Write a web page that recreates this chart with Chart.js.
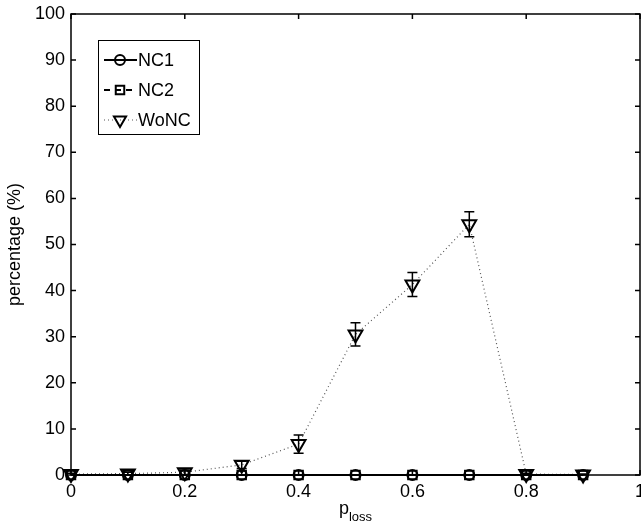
<!DOCTYPE html>
<html>
<head>
<meta charset="utf-8">
<script src="https://cdn.jsdelivr.net/npm/chart.js@4/dist/chart.umd.min.js"></script>
<style>
  body { margin: 0; background: #fff; }
  #wrap { width: 641px; height: 529px; }
</style>
</head>
<body>
<div id="wrap"><canvas id="myChart" width="641" height="529"></canvas></div>
<script>
var ploss = [0, 0.1, 0.2, 0.3, 0.4, 0.5, 0.6, 0.7, 0.8, 0.9];
var nc1 = [0, 0, 0, 0, 0, 0, 0, 0, 0, 0];
var nc2 = [0, 0, 0, 0, 0, 0, 0, 0, 0, 0];
var wonc = [0.2, 0.3, 0.6, 2.2, 6.7, 30.5, 41.3, 54.4, 0.2, 0.1];
var woncErr = [0.2, 0.3, 0.5, 0.8, 2.0, 2.5, 2.6, 2.7, 0.2, 0.1];
var xTicks = [0, 0.2, 0.4, 0.6, 0.8, 1];
var yTicks = [0, 10, 20, 30, 40, 50, 60, 70, 80, 90, 100];

var fontFamily = '"Liberation Sans", Arial, Helvetica, sans-serif';

function toPoints(values) {
  var pts = [];
  for (var i = 0; i < values.length; i++) {
    pts.push({ x: ploss[i], y: values[i] });
  }
  return pts;
}

// error bars for WoNC (dataset 2)
var errorBars = {
  id: 'errorBars',
  afterDatasetsDraw: function(chart) {
    var ctx = chart.ctx;
    var xs = chart.scales.x, ys = chart.scales.y;
    ctx.save();
    ctx.strokeStyle = '#000';
    ctx.lineWidth = 1.5;
    for (var i = 0; i < wonc.length; i++) {
      var px = xs.getPixelForValue(ploss[i]);
      var top = ys.getPixelForValue(wonc[i] + woncErr[i]);
      var bot = ys.getPixelForValue(Math.max(0, wonc[i] - woncErr[i]));
      ctx.beginPath();
      ctx.moveTo(px, top); ctx.lineTo(px, bot);
      ctx.moveTo(px - 5, top); ctx.lineTo(px + 5, top);
      ctx.moveTo(px - 5, bot); ctx.lineTo(px + 5, bot);
      ctx.stroke();
    }
    ctx.restore();
  }
};

function drawMarker(ctx, style, x, y, r) {
  ctx.beginPath();
  if (style === 'circle') {
    ctx.arc(x, y, r, 0, Math.PI * 2);
  } else if (style === 'rect') {
    var s = r * Math.SQRT1_2;
    ctx.rect(x - s, y - s, 2 * s, 2 * s);
  } else {
    // downward triangle
    ctx.moveTo(x - r * 0.866, y - r * 0.5);
    ctx.lineTo(x + r * 0.866, y - r * 0.5);
    ctx.lineTo(x, y + r);
    ctx.closePath();
  }
  ctx.stroke();
}

// MATLAB style box, inward ticks, legend and x label
var matlabFrame = {
  id: 'matlabFrame',
  afterDraw: function(chart) {
    var ctx = chart.ctx;
    var a = chart.chartArea;
    var xs = chart.scales.x, ys = chart.scales.y;
    ctx.save();
    ctx.strokeStyle = '#000';
    ctx.lineWidth = 1.5;
    ctx.strokeRect(a.left, a.top, a.right - a.left, a.bottom - a.top);
    ctx.beginPath();
    xTicks.forEach(function(t) {
      var px = xs.getPixelForValue(t);
      ctx.moveTo(px, a.bottom); ctx.lineTo(px, a.bottom - 5);
      ctx.moveTo(px, a.top); ctx.lineTo(px, a.top + 5);
    });
    yTicks.forEach(function(t) {
      var py = ys.getPixelForValue(t);
      ctx.moveTo(a.left, py); ctx.lineTo(a.left + 5, py);
      ctx.moveTo(a.right, py); ctx.lineTo(a.right - 5, py);
    });
    ctx.stroke();

    // legend
    var lx = 98, ly = 40, lw = 101, lh = 94;
    ctx.fillStyle = '#fff';
    ctx.fillRect(lx, ly, lw, lh);
    ctx.lineWidth = 1;
    ctx.strokeRect(lx + 0.5, ly + 0.5, lw, lh);
    ctx.font = '18px ' + fontFamily;
    ctx.textBaseline = 'middle';
    chart.data.datasets.forEach(function(ds, i) {
      var yy = 60 + i * 30;
      ctx.strokeStyle = ds.borderColor;
      ctx.lineWidth = ds.borderWidth;
      ctx.setLineDash(ds.borderDash || []);
      ctx.beginPath();
      ctx.moveTo(104, yy); ctx.lineTo(137, yy);
      ctx.stroke();
      ctx.setLineDash([]);
      ctx.strokeStyle = '#000';
      ctx.lineWidth = 2;
      var r = ds.pointStyle === 'triangle' ? 7 : (ds.pointStyle === 'rect' ? 6 : 5);
      drawMarker(ctx, ds.pointStyle, 120, yy, r);
      ctx.fillStyle = '#000';
      ctx.fillText(ds.label, 138, yy + 1);
    });

    // x axis label with subscript
    ctx.fillStyle = '#000';
    ctx.textBaseline = 'alphabetic';
    ctx.font = '18px ' + fontFamily;
    var pw = ctx.measureText('p').width;
    ctx.font = '13px ' + fontFamily;
    var sw = ctx.measureText('loss').width;
    var sx = (a.left + a.right) / 2 - (pw + sw) / 2;
    ctx.font = '18px ' + fontFamily;
    ctx.fillText('p', sx, 514);
    ctx.font = '13px ' + fontFamily;
    ctx.fillText('loss', sx + pw, 521);
    ctx.restore();
  }
};

window.onload = function() {
  var ctx = document.getElementById('myChart').getContext('2d');
  new Chart(ctx, {
    type: 'line',
    data: {
      datasets: [
        {
          label: 'NC1',
          data: toPoints(nc1),
          borderColor: '#000',
          borderWidth: 2,
          pointStyle: 'circle',
          pointRadius: 5,
          pointBorderWidth: 2,
          pointBackgroundColor: 'rgba(0,0,0,0)',
          pointBorderColor: '#000',
          clip: false
        },
        {
          label: 'NC2',
          data: toPoints(nc2),
          borderColor: '#000',
          borderWidth: 2,
          borderDash: [6, 5],
          pointStyle: 'rect',
          pointRadius: 6,
          pointBorderWidth: 2,
          pointBackgroundColor: 'rgba(0,0,0,0)',
          pointBorderColor: '#000',
          clip: false
        },
        {
          label: 'WoNC',
          data: toPoints(wonc),
          borderColor: '#555',
          borderWidth: 1.2,
          borderDash: [1, 3],
          pointStyle: 'triangle',
          pointRotation: 180,
          pointRadius: 8,
          pointBorderWidth: 2,
          pointBackgroundColor: 'rgba(0,0,0,0)',
          pointBorderColor: '#000',
          clip: false
        }
      ]
    },
    options: {
      responsive: false,
      animation: false,
      layout: { autoPadding: false, padding: { top: 14, right: 1, left: 0, bottom: 0 } },
      plugins: { legend: { display: false }, tooltip: { enabled: false } },
      scales: {
        x: {
          type: 'linear',
          min: 0, max: 1,
          afterBuildTicks: function(s) { s.ticks = xTicks.map(function(v) { return { value: v }; }); },
          afterFit: function(s) { s.height = 54; s.paddingLeft = 0; s.paddingRight = 0; },
          grid: { display: false, drawTicks: false },
          border: { display: false },
          ticks: {
            padding: 6,
            color: '#000',
            maxRotation: 0,
            font: { family: fontFamily, size: 18 },
            callback: function(v) { return String(Math.round(v * 10) / 10); }
          }
        },
        y: {
          min: 0, max: 100,
          afterBuildTicks: function(s) { s.ticks = yTicks.map(function(v) { return { value: v }; }); },
          afterFit: function(s) { s.width = 71; s.paddingTop = 0; s.paddingBottom = 0; },
          grid: { display: false, drawTicks: false },
          border: { display: false },
          title: {
            display: true,
            text: 'percentage (%)',
            color: '#000',
            font: { family: fontFamily, size: 18 },
            padding: { top: 4, bottom: 0 }
          },
          ticks: {
            padding: 6,
            color: '#000',
            font: { family: fontFamily, size: 18 }
          }
        }
      }
    },
    plugins: [errorBars, matlabFrame]
  });
};
</script>
</body>
</html>
